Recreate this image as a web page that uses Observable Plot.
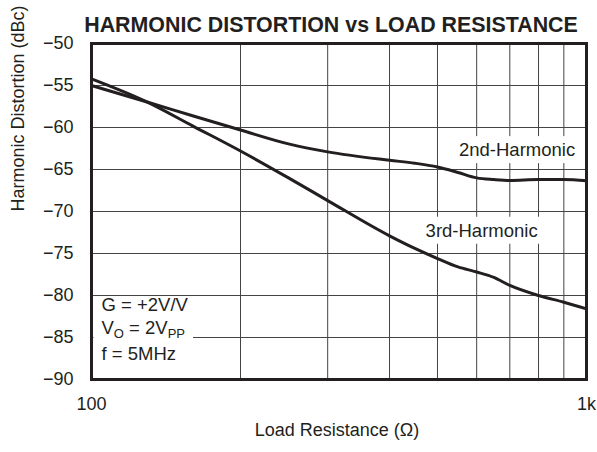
<!DOCTYPE html>
<html><head><meta charset="utf-8">
<script src="https://cdn.jsdelivr.net/npm/d3@7"></script>
<script src="https://cdn.jsdelivr.net/npm/@observablehq/plot@0.6"></script>
<style>body{margin:0;background:#fff;} svg{display:block}</style>
</head><body><div id="chart"></div>
<script>
const title = "HARMONIC DISTORTION vs LOAD RESISTANCE";
const xLabel = "Load Resistance (\u03A9)";
const yLabel = "Harmonic Distortion (dBc)";
const resistance = [100, 130, 160, 200, 250, 300, 400, 450, 500, 550, 600, 650, 700, 800, 900, 1000];
const second = [-55.0, -57.0, -58.6, -60.3, -61.95, -62.9, -63.9, -64.25, -64.7, -65.35, -66.0, -66.2, -66.3, -66.2, -66.2, -66.35];
const third = [-54.2, -57.0, -59.8, -62.8, -66.0, -68.7, -72.9, -74.4, -75.6, -76.6, -77.2, -77.85, -78.8, -80.0, -80.8, -81.6];
const xGrid = [100, 200, 300, 400, 500, 600, 700, 800, 900, 1000];
const xTickValues = [100, 1000];
const xTickLabels = ["100", "1k"];
const yTicks = [-90, -85, -80, -75, -70, -65, -60, -55, -50];
const seriesNames = ["2nd-Harmonic", "3rd-Harmonic"];
const seriesLabelX = [724, 614];
const seriesLabelY = [-62.7, -72.3];
const conditions = ["G = +2V/V", "VO = 2VPP", "f = 5MHz"];

const data = resistance.flatMap((r, i) => [
  {r, db: second[i], s: seriesNames[0]},
  {r, db: third[i], s: seriesNames[1]}
]);
const labels = seriesNames.map((s, i) => ({s, x: seriesLabelX[i], y: seriesLabelY[i]}));

const ink = "#231f20";
const font = "'Liberation Sans', Arial, Helvetica, sans-serif";

const chart = Plot.plot({
  width: 597, height: 452,
  marginTop: 43, marginBottom: 73, marginLeft: 91, marginRight: 11,
  style: {fontFamily: font, fontSize: "18px", color: ink, background: "#fff", overflow: "visible"},
  x: {type: "log", domain: [100, 1000], ticks: xTickValues,
      tickFormat: d => xTickLabels[xTickValues.indexOf(d)], tickSize: 0, tickPadding: 18, label: null},
  y: {domain: [-90, -50], ticks: yTicks, tickSize: 0, tickPadding: 18, label: null},
  marks: [
    Plot.ruleX(xGrid.slice(1, -1), {stroke: "#444", strokeWidth: 1}),
    Plot.ruleY(yTicks.slice(1, -1), {stroke: "#444", strokeWidth: 1}),
    Plot.text(labels, {x: "x", y: "y", text: "s", fill: ink, fontSize: 18.5}),
    Plot.text([conditions[0]], {frameAnchor: "bottom-left", dx: 10, dy: -69, textAnchor: "start", fill: ink, fontSize: 18.5}),
    Plot.text([conditions[1]], {frameAnchor: "bottom-left", dx: 10, dy: -46, textAnchor: "start", fill: ink, fontSize: 18.5}),
    Plot.text([conditions[2]], {frameAnchor: "bottom-left", dx: 10, dy: -20, textAnchor: "start", fill: ink, fontSize: 18.5}),
    Plot.line(data, {x: "r", y: "db", z: "s", stroke: ink, strokeWidth: 3, curve: "monotone-x"}),
    Plot.frame({stroke: ink, strokeWidth: 3}),
    Plot.text([title], {frameAnchor: "top", dy: -27, dx: -8, fontSize: 21.4, fontWeight: "bold", fill: ink}),
    Plot.text([xLabel], {frameAnchor: "bottom", dy: 56, dx: -2, fill: ink, fontSize: 18}),
    Plot.text([yLabel], {frameAnchor: "left", dx: -73, rotate: -90, fill: ink, fontSize: 18})
  ]
});

document.getElementById("chart").appendChild(chart);

const ns = "http://www.w3.org/2000/svg";
// subscripts for V_O and V_PP
let voText = null;
chart.querySelectorAll("text").forEach(t => {
  if (t.textContent === conditions[1]) {
    voText = t;
    while (t.firstChild) t.removeChild(t.firstChild);
    const parts = [["V", null, null], ["O", 4, 13], [" = 2V", -4, 18.5], ["PP", 4, 13]];
    for (const [str, dy, fs] of parts) {
      const sp = document.createElementNS(ns, "tspan");
      if (dy !== null) sp.setAttribute("dy", dy);
      if (fs !== null) sp.setAttribute("font-size", fs);
      sp.textContent = str;
      t.appendChild(sp);
    }
  }
});

// white backgrounds behind in-plot labels (mask the grid like the reference)
function maskBehind(t, padX, padY) {
  const b = t.getBBox();
  const m = t.getCTM();
  const r = document.createElementNS(ns, "rect");
  const p = chart.createSVGPoint ? chart.createSVGPoint() : null;
  let x = b.x, y = b.y;
  if (p && m) { p.x = b.x; p.y = b.y; const q = p.matrixTransform(m); x = q.x; y = q.y; }
  r.setAttribute("x", x - padX);
  r.setAttribute("y", y - padY);
  r.setAttribute("width", b.width + 2 * padX);
  r.setAttribute("height", b.height + 2 * padY);
  r.setAttribute("fill", "white");
  t.parentNode.parentNode.insertBefore(r, t.parentNode);
}
chart.querySelectorAll("text").forEach(t => {
  if (seriesNames.includes(t.textContent)) maskBehind(t, 3, 3);
});
if (voText) maskBehind(voText, 8, -2);
</script>
</body></html>
